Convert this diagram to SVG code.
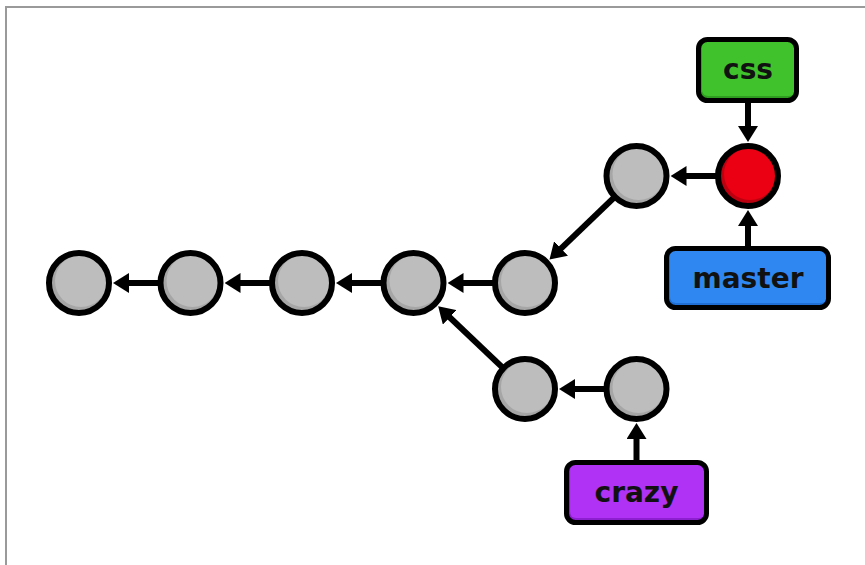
<svg xmlns="http://www.w3.org/2000/svg" width="865" height="565" viewBox="0 0 865 565">
<style>
.edge{stroke:#000;stroke-width:6;fill:none;marker-end:url(#ah)}
.ring{fill:none;stroke:#000;stroke-width:6}
.gdark{fill:#a6a6a6}.glight{fill:#bdbdbd}
.rdark{fill:#bb0010}.rlight{fill:#ea0012}
.box{stroke:#000;stroke-width:5}
.lbl{font-family:"DejaVu Sans",sans-serif;font-weight:bold;font-size:28px;text-anchor:middle;fill:#111}
</style>
<defs>
<marker id="ah" markerUnits="userSpaceOnUse" markerWidth="16" markerHeight="20" viewBox="0 0 16 20" refX="2" refY="10" orient="auto">
<path d="M0,0 L16,10 L0,20 z" fill="#000"/>
</marker>
</defs>
<rect width="865" height="565" fill="#fff"/>
<path d="M6,565 V7 H865" fill="none" stroke="#9a9a9a" stroke-width="2"/>
<g id="connectors">
<line class="edge" x1="190.5" y1="283" x2="127" y2="283"/>
<line class="edge" x1="302" y1="283" x2="238.5" y2="283"/>
<line class="edge" x1="413.5" y1="283" x2="350" y2="283"/>
<line class="edge" x1="525" y1="283" x2="461.5" y2="283"/>
<line class="edge" x1="748" y1="176" x2="684.5" y2="176"/>
<line class="edge" x1="636.5" y1="176" x2="559.6" y2="249.8"/>
<line class="edge" x1="525" y1="389" x2="448.3" y2="316"/>
<line class="edge" x1="636.5" y1="389" x2="573" y2="389"/>
<line class="edge" x1="748" y1="103" x2="748" y2="128"/>
<line class="edge" x1="748" y1="246" x2="748" y2="224"/>
<line class="edge" x1="636.5" y1="460" x2="636.5" y2="437"/>
</g>
<g id="c1"><circle class="gdark" cx="79" cy="283" r="30"/><circle class="glight" cx="81" cy="281" r="26"/><circle class="ring" cx="79" cy="283" r="30"/></g>
<g id="c2"><circle class="gdark" cx="190.5" cy="283" r="30"/><circle class="glight" cx="192.5" cy="281" r="26"/><circle class="ring" cx="190.5" cy="283" r="30"/></g>
<g id="c3"><circle class="gdark" cx="302" cy="283" r="30"/><circle class="glight" cx="304" cy="281" r="26"/><circle class="ring" cx="302" cy="283" r="30"/></g>
<g id="c4"><circle class="gdark" cx="413.5" cy="283" r="30"/><circle class="glight" cx="415.5" cy="281" r="26"/><circle class="ring" cx="413.5" cy="283" r="30"/></g>
<g id="c5"><circle class="gdark" cx="525" cy="283" r="30"/><circle class="glight" cx="527" cy="281" r="26"/><circle class="ring" cx="525" cy="283" r="30"/></g>
<g id="c6"><circle class="gdark" cx="636.5" cy="176" r="30"/><circle class="glight" cx="638.5" cy="174" r="26"/><circle class="ring" cx="636.5" cy="176" r="30"/></g>
<g id="c7"><circle class="rdark" cx="748" cy="176" r="30"/><circle class="rlight" cx="750" cy="174" r="26"/><circle class="ring" cx="748" cy="176" r="30"/></g>
<g id="c8"><circle class="gdark" cx="525" cy="389" r="30"/><circle class="glight" cx="527" cy="387" r="26"/><circle class="ring" cx="525" cy="389" r="30"/></g>
<g id="c9"><circle class="gdark" cx="636.5" cy="389" r="30"/><circle class="glight" cx="638.5" cy="387" r="26"/><circle class="ring" cx="636.5" cy="389" r="30"/></g>
<g id="css">
<rect x="698.5" y="39.5" width="98" height="61" rx="9" fill="#2f9e20"/>
<rect x="702" y="41" width="93" height="55" rx="6" fill="#3fc22b"/>
<rect x="698.5" y="39.5" width="98" height="61" rx="9" fill="none" stroke="#000" stroke-width="5"/>
<text class="lbl" x="748" y="79">css</text>
</g>
<g id="master">
<rect x="666.5" y="248.5" width="162" height="59" rx="9" fill="#1f6fd4"/>
<rect x="670" y="250" width="157" height="53" rx="6" fill="#2f88f2"/>
<rect x="666.5" y="248.5" width="162" height="59" rx="9" fill="none" stroke="#000" stroke-width="5"/>
<text class="lbl" x="748" y="288">master</text>
</g>
<g id="crazy">
<rect x="566.5" y="462.5" width="140" height="60" rx="9" fill="#8e1fd0"/>
<rect x="570" y="464" width="135" height="54" rx="6" fill="#b033f5"/>
<rect x="566.5" y="462.5" width="140" height="60" rx="9" fill="none" stroke="#000" stroke-width="5"/>
<text class="lbl" x="636.5" y="502">crazy</text>
</g>
</svg>
